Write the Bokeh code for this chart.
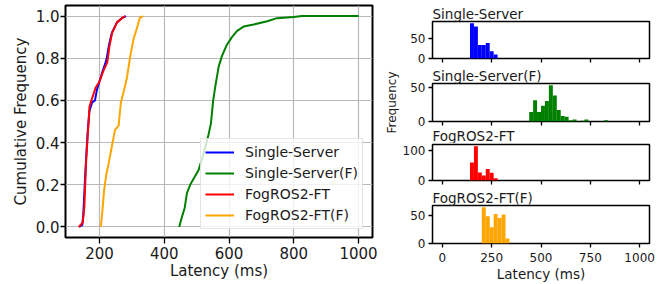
from bokeh.plotting import figure
from bokeh.layouts import row, column
from bokeh.models import Range1d, FixedTicker, NumeralTickFormatter, Legend, LegendItem, Title
from bokeh.embed import file_html
from bokeh.resources import INLINE

FONT = "DejaVu Sans"
TXT = "#1a1a1a"

series_names = ["Single-Server", "Single-Server(F)", "FogROS2-FT", "FogROS2-FT(F)"]
series_colors = ["blue", "green", "red", "orange"]

# ---- CDF curves: latency (ms) and cumulative frequency ----
ss_cdf_x = [137, 147, 150, 157, 163, 169, 177, 186, 192, 202, 210, 221, 229, 238, 254, 269, 282]
ss_cdf_y = [0.0, 0.01, 0.06, 0.28, 0.44, 0.55, 0.59, 0.60, 0.65, 0.70, 0.74, 0.79, 0.86, 0.92, 0.97, 0.99, 1.0]

ssf_cdf_x = [446, 455, 463, 470, 480, 491, 506, 516, 527, 537, 544, 551, 558, 568, 578, 592, 609, 625, 645, 676, 718, 748, 800, 825, 1000]
ssf_cdf_y = [0.0, 0.05, 0.09, 0.16, 0.20, 0.23, 0.27, 0.32, 0.38, 0.44, 0.49, 0.60, 0.67, 0.76, 0.81, 0.86, 0.90, 0.93, 0.95, 0.96, 0.975, 0.99, 0.995, 1.0, 1.0]

ft_cdf_x = [136, 148, 153, 159, 164, 169, 175, 188, 200, 212, 224, 231, 239, 254, 269, 279]
ft_cdf_y = [0.0, 0.02, 0.09, 0.32, 0.44, 0.57, 0.60, 0.66, 0.69, 0.74, 0.78, 0.86, 0.92, 0.97, 0.99, 1.0]

ftf_cdf_x = [204, 208, 214, 221, 228, 238, 248, 259, 266, 276, 285, 295, 305, 315, 324, 334]
ftf_cdf_y = [0.0, 0.06, 0.17, 0.25, 0.30, 0.38, 0.46, 0.48, 0.59, 0.65, 0.71, 0.81, 0.89, 0.94, 0.99, 1.0]

cdf_x = [ss_cdf_x, ssf_cdf_x, ft_cdf_x, ftf_cdf_x]
cdf_y = [ss_cdf_y, ssf_cdf_y, ft_cdf_y, ftf_cdf_y]

main_xticks = [200, 400, 600, 800, 1000]
main_yticks = [0.0, 0.2, 0.4, 0.6, 0.8, 1.0]

# ---- Histograms (20 ms bins) ----
bin_width = 20
ss_bin_start = 140
ss_counts = [88, 80, 34, 34, 39, 18, 10]
ssf_bin_start = 440
ssf_counts = [14, 31, 14, 23, 30, 53, 38, 17, 8, 7, 2, 3, 0, 1, 3, 0, 0, 0, 0, 2]
ft_bin_start = 140
ft_counts = [61, 116, 27, 17, 39, 26, 8]
ftf_bin_start = 200
ftf_counts = [65, 49, 29, 53, 46, 52, 9]

hist_starts = [ss_bin_start, ssf_bin_start, ft_bin_start, ftf_bin_start]
hist_counts = [ss_counts, ssf_counts, ft_counts, ftf_counts]
hist_yticks = [[0, 50], [0, 50], [0, 100], [0, 50]]
hist_xticks = [0, 250, 500, 750, 1000]


def style_axes(p, tick_out, label_size):
    for ax in p.axis:
        ax.axis_line_color = None
        ax.major_tick_in = 0
        ax.major_tick_out = tick_out
        ax.major_tick_line_width = 1.3
        ax.major_tick_line_color = "black"
        ax.minor_tick_line_color = None
        ax.major_label_text_font = FONT
        ax.major_label_text_font_size = label_size
        ax.major_label_text_color = TXT
        ax.axis_label_text_font = FONT
        ax.axis_label_text_font_style = "normal"
        ax.axis_label_text_color = TXT


def make_title(text):
    return Title(text=text, align="left", offset=0, standoff=0,
                 text_font=FONT, text_font_size="13.5px",
                 text_font_style="normal", text_color=TXT)


# ---------------- main CDF figure ----------------
main = figure(frame_width=307, frame_height=232,
              x_range=Range1d(95, 1043), y_range=Range1d(-0.05, 1.05),
              output_backend="svg", toolbar_location=None,
              min_border_left=65, min_border_right=10,
              min_border_top=5, min_border_bottom=47)
main.outline_line_color = "black"
main.outline_line_width = 2
main.background_fill_color = "white"
main.grid.grid_line_color = "#b9b9b9"
main.grid.grid_line_width = 1.2
style_axes(main, 6, "15px")
main.xaxis.ticker = FixedTicker(ticks=main_xticks)
main.yaxis.ticker = FixedTicker(ticks=main_yticks)
main.yaxis.formatter = NumeralTickFormatter(format="0.0")
main.xaxis.axis_label = "Latency (ms)"
main.yaxis.axis_label = "Cumulative Frequency"
main.xaxis.axis_label_text_font_size = "15px"
main.yaxis.axis_label_text_font_size = "15px"
main.xaxis.major_label_standoff = 3
main.xaxis.axis_label_standoff = 0
main.yaxis.major_tick_out = 5
main.yaxis.major_label_standoff = 1
main.yaxis.axis_label_standoff = 3

items = []
for name, col, xs, ys in zip(series_names, series_colors, cdf_x, cdf_y):
    r = main.line(xs, ys, line_color=col, line_width=2)
    items.append(LegendItem(label=name, renderers=[r]))

legend = Legend(items=items, location=(135, 8))
legend.label_text_font = FONT
legend.label_text_font_size = "14px"
legend.label_text_color = TXT
legend.glyph_width = 29
legend.glyph_height = 18
legend.label_height = 18
legend.label_standoff = 11
legend.spacing = 3
legend.padding = 4
legend.margin = 0
legend.background_fill_alpha = 0.8
legend.border_line_color = "#cccccc"
legend.border_line_width = 1
main.add_layout(legend)

# ---------------- histograms ----------------
shared_x = Range1d(-50, 1050)
# per-panel layout: (frame height, top border, bottom border)
panel_layout = [(37, 21, 7), (38, 17, 21), (36, 1, 7), (38, 17, 40)]
hists = []
for i, (name, col, start, counts, yt) in enumerate(zip(series_names, series_colors,
                                                        hist_starts, hist_counts, hist_yticks)):
    fh, bt, bb = panel_layout[i]
    p = figure(frame_width=217, frame_height=fh,
               x_range=shared_x, y_range=Range1d(0, max(counts) * 1.05),
               output_backend="svg", toolbar_location=None,
               min_border_left=49, min_border_right=15,
               min_border_top=bt, min_border_bottom=bb)
    p.outline_line_color = "black"
    p.outline_line_width = 1.5
    p.grid.grid_line_color = None
    style_axes(p, 4, "12px")
    p.yaxis.ticker = FixedTicker(ticks=yt)
    p.yaxis.major_label_standoff = 3
    if i == 3:
        p.xaxis.ticker = FixedTicker(ticks=hist_xticks)
        p.xaxis.major_label_standoff = 5
        p.xaxis.axis_label = "Latency (ms)"
        p.xaxis.axis_label_text_font_size = "13.5px"
        p.xaxis.axis_label_standoff = 1
    else:
        # tick marks only, no labels
        p.xaxis.ticker = FixedTicker(ticks=[], minor_ticks=hist_xticks)
        p.xaxis.minor_tick_line_color = "black"
        p.xaxis.minor_tick_line_width = 1.3
        p.xaxis.minor_tick_out = 4
        p.xaxis.minor_tick_in = 0
        p.xaxis.major_label_standoff = 0
    if i == 1:
        p.yaxis.axis_label = "Frequency"
        p.yaxis.axis_label_text_font_size = "12px"
        p.yaxis.axis_label_standoff = 8
    lefts = [start + k * bin_width for k in range(len(counts))]
    rights = [l + bin_width for l in lefts]
    p.quad(left=lefts, right=rights, bottom=0, top=counts,
           fill_color=col, line_color=None)
    hists.append(p)

# titles: panels 1, 2, 4 carry their own title above; panel 3's title sits below panel 2
hists[0].add_layout(make_title(series_names[0]), "above")
hists[1].add_layout(make_title(series_names[1]), "above")
hists[1].add_layout(make_title(series_names[2]), "below")
hists[3].add_layout(make_title(series_names[3]), "above")

layout = row(main, column(*hists))

open("out.html", "w").write(file_html(layout, INLINE))
